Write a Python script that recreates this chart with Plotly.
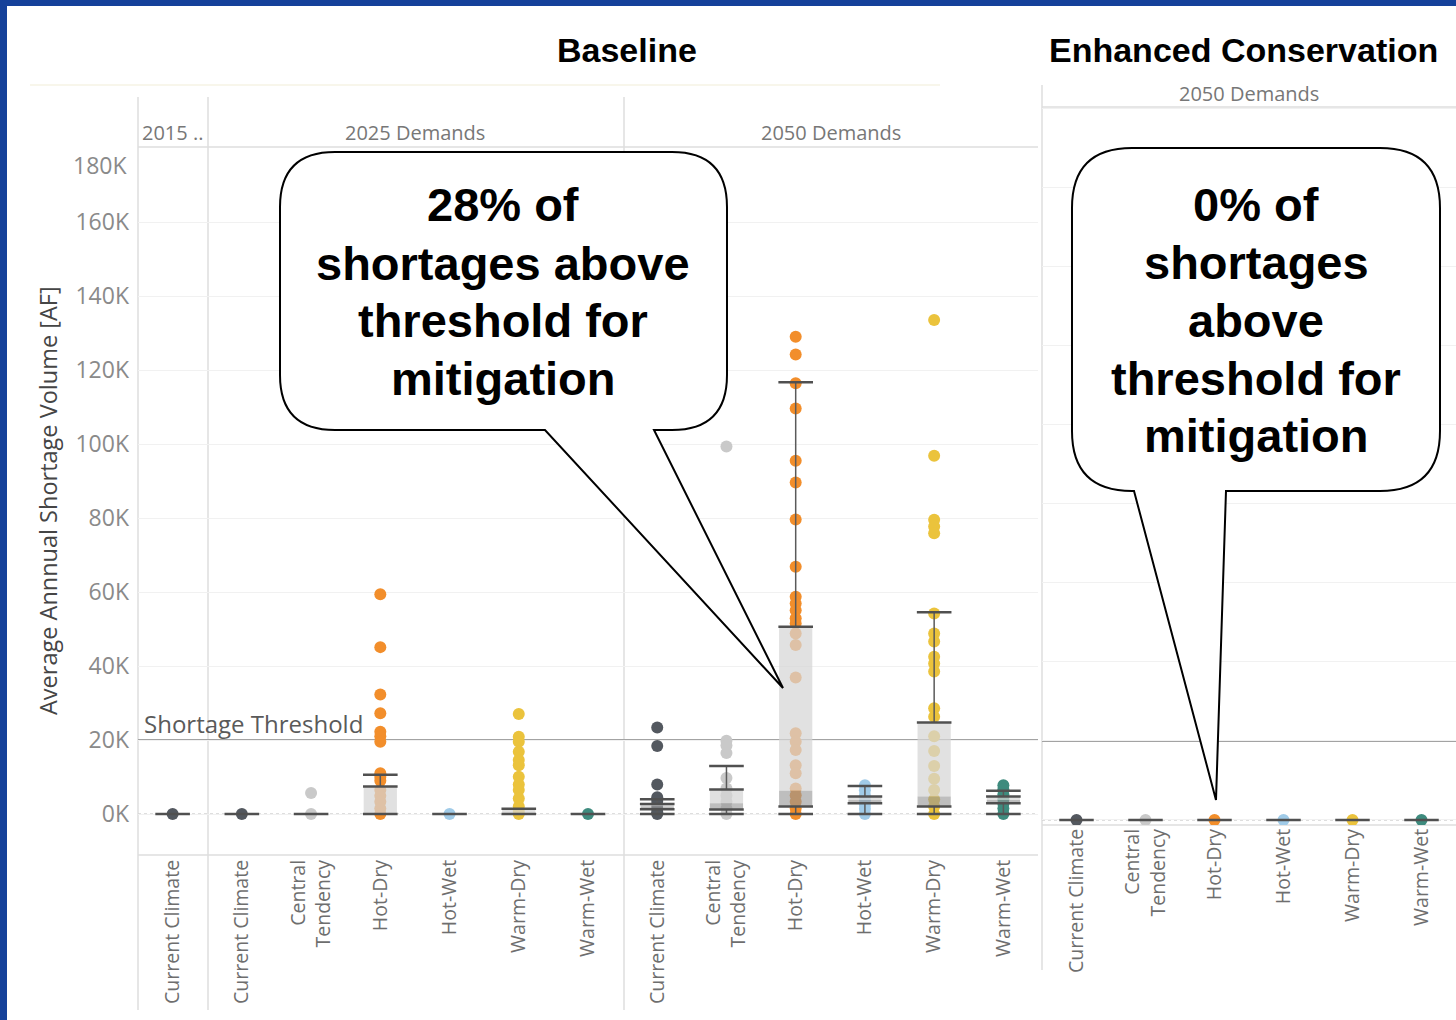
import plotly.graph_objects as go

W, H = 1456, 1020


def px(x):
    return x / W


def py(y):
    return 1 - y / H


# ---------------------------------------------------------------- data
# climate scenarios and their colours
scenarios = ["Current Climate", "Central Tendency", "Hot-Dry", "Hot-Wet", "Warm-Dry", "Warm-Wet"]
scenario_colors = ["#53585f", "#c9c9c9", "#f28e2b", "#a0cbe8", "#ebc33c", "#3e8b7e"]
scenario_ticks = ["Current Climate", "Central<br>Tendency", "Hot-Dry", "Hot-Wet", "Warm-Dry", "Warm-Wet"]

# Baseline columns: 2015 (current climate only), 2025 demands, 2050 demands
baseline_columns = ["Current Climate"] + scenarios + scenarios
baseline_groups = ["2015 ..", "2025 Demands", "2050 Demands"]

# Average annual shortage volume per model run, thousand AF
base_2015_current = [0]
base_2025_current = [0]
base_2025_central = [5.7, 0]
base_2025_hotdry = [59.4, 45.1, 32.3, 27.2, 22.2, 21.0, 19.5, 11.0, 10.0, 9.0, 6.5, 4.9, 3.3, 1.5, 0]
base_2025_hotwet = [0]
base_2025_warmdry = [27.0, 20.9, 19.5, 16.8, 14.6, 13.2, 10.1, 8.0, 6.5, 4.2, 2.0, 0.8, 0]
base_2025_warmwet = [0]
base_2050_current = [23.4, 18.4, 8.0, 4.5, 3.5, 2.5, 1.5, 0.5, 0]
base_2050_central = [99.3, 60.4, 19.8, 18.5, 16.5, 9.7, 6.9, 5.0, 3.3, 1.5, 0]
base_2050_hotdry = [129.0, 124.2, 116.4, 109.6, 95.5, 89.6, 79.6, 66.8, 58.7, 56.9, 55.1,
                    52.9, 51.5, 48.8, 45.7, 36.9, 21.8, 19.5, 17.3, 13.2, 11.0, 6.9, 5.1,
                    3.3, 1.5, 0]
base_2050_hotwet = [7.8, 6.4, 5.0, 3.8, 2.6, 1.4, 0]
base_2050_warmdry = [133.5, 96.8, 79.5, 77.7, 75.9, 54.2, 48.8, 46.6, 42.5, 40.7, 38.5,
                     28.6, 26.3, 21.0, 17.0, 13.0, 9.5, 6.5, 4.0, 2.0, 0]
base_2050_warmwet = [7.8, 6.6, 5.3, 4.0, 2.8, 1.5, 0]

# Box-plot summary per Baseline column (thousand AF)
base_low = [0, 0, 0, 0, 0, 0, 0, 0, 0, 0, 0, 0, 0]
base_q1 = [0, 0, 0, 0, 0, 0, 0, 1.3, 1.2, 2.0, 2.9, 2.0, 2.9]
base_median = [0, 0, 0, 0, 0, 0, 0, 2.0, 2.9, 6.3, 3.8, 4.7, 3.8]
base_q3 = [0, 0, 0, 7.4, 0, 1.4, 0, 2.7, 6.6, 50.6, 4.7, 24.7, 4.7]
base_high = [0, 0, 0, 10.6, 0, 1.4, 0, 4.0, 13.0, 116.7, 7.6, 54.5, 6.3]

# Enhanced Conservation, 2050 demands
cons_2050_current = [0]
cons_2050_central = [0]
cons_2050_hotdry = [0]
cons_2050_hotwet = [0]
cons_2050_warmdry = [0]
cons_2050_warmwet = [0]
cons_low = [0, 0, 0, 0, 0, 0]
cons_q1 = [0, 0, 0, 0, 0, 0]
cons_median = [0, 0, 0, 0, 0, 0]
cons_q3 = [0, 0, 0, 0, 0, 0]
cons_high = [0, 0, 0, 0, 0, 0]

shortage_threshold = 20
y_ticks = [0, 20, 40, 60, 80, 100, 120, 140, 160]
y_tick_text = [f"{v}K" for v in y_ticks]

baseline_values = [base_2015_current,
                   base_2025_current, base_2025_central, base_2025_hotdry,
                   base_2025_hotwet, base_2025_warmdry, base_2025_warmwet,
                   base_2050_current, base_2050_central, base_2050_hotdry,
                   base_2050_hotwet, base_2050_warmdry, base_2050_warmwet]
conservation_values = [cons_2050_current, cons_2050_central, cons_2050_hotdry,
                       cons_2050_hotwet, cons_2050_warmdry, cons_2050_warmwet]

color_of = dict(zip(scenarios, scenario_colors))
tick_of = dict(zip(scenarios, scenario_ticks))

# ---------------------------------------------------------------- styles
TXT = "Open Sans, Noto Sans, sans-serif"
BOLD = "Liberation Sans, Arial, sans-serif"
PANE_LINE = "#dedede"
BOX_HW = 0.24
CAP_HW = 0.25

fig = go.Figure()


def add_panel(values, columns, low, q1, med, q3, high, xa, ya):
    # individual runs as dots
    for i, (vals, scen) in enumerate(zip(values, columns)):
        fig.add_trace(go.Scatter(
            x=[i] * len(vals), y=vals, mode="markers", xaxis=xa, yaxis=ya,
            marker=dict(size=12, color=color_of[scen], line=dict(width=0)),
            hoverinfo="skip", showlegend=False))

    # two-tone box: median..q3 light, q1..median darker (drawn over the dots)
    up_x, up_y, lo_x, lo_y = [], [], [], []
    for i in range(len(columns)):
        if q3[i] > med[i]:
            up_x += [i - BOX_HW, i + BOX_HW, i + BOX_HW, i - BOX_HW, i - BOX_HW, None]
            up_y += [med[i], med[i], q3[i], q3[i], med[i], None]
        if med[i] > q1[i]:
            lo_x += [i - BOX_HW, i + BOX_HW, i + BOX_HW, i - BOX_HW, i - BOX_HW, None]
            lo_y += [q1[i], q1[i], med[i], med[i], q1[i], None]
    for bx, by, fc in ((up_x, up_y, "rgba(214,214,214,0.72)"),
                       (lo_x, lo_y, "rgba(150,150,150,0.62)")):
        if bx:
            fig.add_trace(go.Scatter(
                x=bx, y=by, mode="lines", fill="toself", fillcolor=fc,
                line=dict(width=0), xaxis=xa, yaxis=ya,
                hoverinfo="skip", showlegend=False))

    # whiskers
    wx, wy = [], []
    for i in range(len(columns)):
        if high[i] > q3[i]:
            wx += [i, i, None]
            wy += [q3[i], high[i], None]
        if q1[i] > low[i]:
            wx += [i, i, None]
            wy += [low[i], q1[i], None]
    if wx:
        fig.add_trace(go.Scatter(
            x=wx, y=wy, mode="lines", line=dict(color="#5a5a5a", width=1.5),
            xaxis=xa, yaxis=ya, hoverinfo="skip", showlegend=False))

    # caps and box edges
    hx, hy = [], []
    for i in range(len(columns)):
        for v in sorted({low[i], q1[i], q3[i], high[i]}):
            hx += [i - CAP_HW, i + CAP_HW, None]
            hy += [v, v, None]
    fig.add_trace(go.Scatter(
        x=hx, y=hy, mode="lines", line=dict(color="#505050", width=2.5),
        xaxis=xa, yaxis=ya, hoverinfo="skip", showlegend=False))


add_panel(baseline_values, baseline_columns, base_low, base_q1, base_median,
          base_q3, base_high, "x", "y")
add_panel(conservation_values, scenarios, cons_low, cons_q1, cons_median,
          cons_q3, cons_high, "x2", "y2")

# ---------------------------------------------------------------- axes
left_x = (138, 1038)
left_y = (148, 855)
right_x = (1042, 1456)
right_y = (107, 825)

axis_common = dict(showline=False, zeroline=False, ticks="", fixedrange=True)

fig.update_layout(
    xaxis=dict(domain=[px(left_x[0]), px(left_x[1])], range=[-0.5, len(baseline_columns) - 0.5],
               tickvals=list(range(len(baseline_columns))),
               ticktext=[tick_of[c] for c in baseline_columns],
               tickangle=-90, showgrid=False, ticklabelstandoff=0,
               tickfont=dict(family=TXT, size=19.5, color="#6e6e6e"), **axis_common),
    yaxis=dict(domain=[py(left_y[1]), py(left_y[0])], range=[-11.08, 180.0],
               tickvals=y_ticks, ticktext=y_tick_text, showgrid=True,
               gridcolor="#f1f1f1", gridwidth=1, ticklabelstandoff=8,
               tickfont=dict(family=TXT, size=23, color="#8a8a8a"), **axis_common),
    xaxis2=dict(domain=[px(right_x[0]), px(right_x[1])], range=[-0.5, len(scenarios) - 0.5],
                tickvals=list(range(len(scenarios))),
                ticktext=[tick_of[c] for c in scenarios],
                tickangle=-90, showgrid=False, ticklabelstandoff=-1,
                tickfont=dict(family=TXT, size=19.5, color="#6e6e6e"), anchor="y2",
                **axis_common),
    yaxis2=dict(domain=[py(right_y[1]), py(right_y[0])], range=[-1.27, 180.5],
                tickvals=y_ticks + [180], showticklabels=False, showgrid=True,
                gridcolor="#f1f1f1", gridwidth=1, anchor="x2", **axis_common),
    width=W, height=H, margin=dict(l=0, r=0, t=0, b=0),
    paper_bgcolor="white", plot_bgcolor="rgba(0,0,0,0)", showlegend=False,
)

shapes = []


def pane_line(x0, y0, x1, y1, color=PANE_LINE, width=1.5):
    shapes.append(dict(type="line", xref="paper", yref="paper",
                       x0=px(x0), y0=py(y0), x1=px(x1), y1=py(y1),
                       line=dict(color=color, width=width), layer="below"))


# pane borders (Baseline)
for xv in (138, 208, 624):
    pane_line(xv, 97, xv, 1010)
pane_line(138, 147, 1038, 147)
pane_line(138, 855, 1038, 855)
# pane borders (Enhanced Conservation)
pane_line(1042, 85, 1042, 970)
pane_line(1042, 107, 1456, 107)
pane_line(1042, 825, 1456, 825)
# faint rule under the titles
pane_line(30, 85, 940, 85, color="#f6f3e4", width=1.5)

# zero reference and shortage threshold
for xref, yref in (("x domain", "y"), ("x2 domain", "y2")):
    shapes.append(dict(type="line", xref=xref, yref=yref, x0=0, x1=1, y0=0, y1=0,
                       line=dict(color="#d4d4d4", width=1.5, dash="dot"), layer="below"))
    shapes.append(dict(type="line", xref=xref, yref=yref, x0=0, x1=1,
                       y0=shortage_threshold, y1=shortage_threshold,
                       line=dict(color="#a3a3a3", width=2), layer="below"))

# frame strips
shapes.append(dict(type="rect", xref="paper", yref="paper", x0=0, x1=1, y0=py(6), y1=1,
                   fillcolor="#15419a", line=dict(width=0), layer="above"))
shapes.append(dict(type="rect", xref="paper", yref="paper", x0=0, x1=px(7), y0=0, y1=1,
                   fillcolor="#15419a", line=dict(width=0), layer="above"))


def callout_path(x0, y0, x1, y1, r, tail):
    """Rounded box with a pointer leaving the bottom edge (pixel coords)."""
    ta, tip, tb = tail
    pts = [
        ("M", [(x0 + r, y0)]),
        ("L", [(x1 - r, y0)]),
        ("Q", [(x1, y0), (x1, y0 + r)]),
        ("L", [(x1, y1 - r)]),
        ("Q", [(x1, y1), (x1 - r, y1)]),
        ("L", [(tb, y1)]),
        ("L", [tip]),
        ("L", [(ta, y1)]),
        ("L", [(x0 + r, y1)]),
        ("Q", [(x0, y1), (x0, y1 - r)]),
        ("L", [(x0, y0 + r)]),
        ("Q", [(x0, y0), (x0 + r, y0)]),
    ]
    out = []
    for cmd, ps in pts:
        out.append(cmd + " ".join(f"{px(a):.5f},{py(b):.5f}" for a, b in ps))
    return " ".join(out) + " Z"


shapes.append(dict(type="path", xref="paper", yref="paper",
                   path=callout_path(280, 152, 727, 430, 55, (545, (783, 688), 654)),
                   fillcolor="white", line=dict(color="black", width=2), layer="above"))
shapes.append(dict(type="path", xref="paper", yref="paper",
                   path=callout_path(1072, 148, 1440, 491, 60, (1134, (1216, 800), 1226)),
                   fillcolor="white", line=dict(color="black", width=2), layer="above"))

fig.update_layout(shapes=shapes)

annotations = []


def label(text, x, y, size, color, family=TXT, xanchor="center", angle=0, bold=False):
    annotations.append(dict(
        text=f"<b>{text}</b>" if bold else text, xref="paper", yref="paper",
        x=px(x), y=py(y), xanchor=xanchor, yanchor="middle", showarrow=False,
        textangle=angle, font=dict(family=family, size=size, color=color)))


# titles
label("Baseline", 627, 50, 34, "black", family=BOLD, bold=True)
label("Enhanced Conservation", 1243, 50, 34, "black", family=BOLD, bold=True)

# demand-year headers
label(baseline_groups[0], 172, 133, 20, "#777777")
label(baseline_groups[1], 415, 133, 20, "#777777")
label(baseline_groups[2], 831, 133, 20, "#777777")
label("2050 Demands", 1249, 93, 20, "#777777")

# axis title and clipped top tick
label("Average Annnual Shortage Volume [AF]", 48, 501, 23.5, "#454545", angle=-90)
label("180K", 129, 165, 23, "#8a8a8a", xanchor="right")

# threshold label
label("Shortage Threshold", 142, 723, 24, "#5a5a5a", xanchor="left")

# callout texts
for t, yy in zip(["28% of", "shortages above", "threshold for", "mitigation"],
                 [205, 263, 320, 378]):
    label(t, 503, yy, 47, "black", family=BOLD, bold=True)
for t, yy in zip(["0% of", "shortages", "above", "threshold for", "mitigation"],
                 [205, 262, 320, 378, 435]):
    label(t, 1256, yy, 47, "black", family=BOLD, bold=True)

fig.update_layout(annotations=annotations)

fig.write_html("out.html")
